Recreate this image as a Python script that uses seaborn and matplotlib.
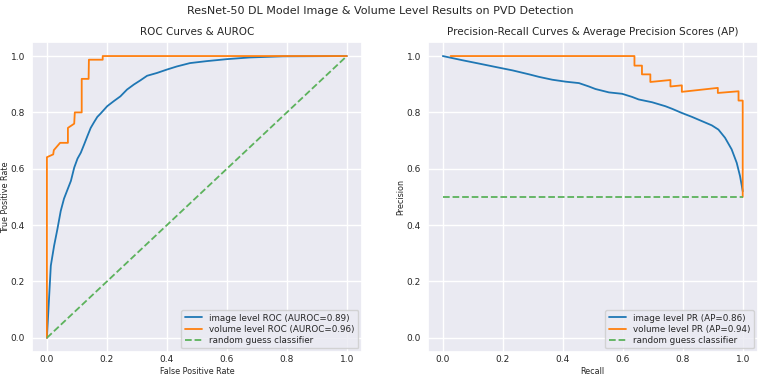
import numpy as np
import pandas as pd
import matplotlib
matplotlib.use("Agg")
import matplotlib.pyplot as plt
import seaborn as sns

# ROC data
img_fpr = [0.0, 0.013, 0.024, 0.035, 0.046, 0.057, 0.069, 0.080, 0.091, 0.102, 0.113, 0.124,
           0.135, 0.146, 0.157, 0.168, 0.179, 0.201, 0.223, 0.245, 0.267, 0.290, 0.312, 0.334,
           0.367, 0.400, 0.433, 0.477, 0.533, 0.600, 0.676, 0.787, 1.0]
img_tpr = [0.0, 0.256, 0.327, 0.386, 0.450, 0.494, 0.527, 0.557, 0.604, 0.636, 0.657, 0.686,
           0.716, 0.745, 0.765, 0.784, 0.796, 0.822, 0.840, 0.857, 0.881, 0.899, 0.914, 0.930,
           0.940, 0.952, 0.963, 0.975, 0.982, 0.989, 0.995, 0.999, 1.0]
vol_fpr = [0.0, 0.0, 0.021, 0.023, 0.044, 0.070, 0.070, 0.091, 0.093, 0.116, 0.116, 0.139,
           0.140, 0.186, 0.186, 1.0]
vol_tpr = [0.0, 0.641, 0.651, 0.666, 0.692, 0.692, 0.745, 0.760, 0.800, 0.800, 0.919, 0.919,
           0.987, 0.987, 1.0, 1.0]
rand_roc_x = [0.0, 1.0]
rand_roc_y = [0.0, 1.0]

# PR data
img_rec = [0.0, 0.066, 0.122, 0.177, 0.233, 0.288, 0.321, 0.365, 0.410, 0.454, 0.487, 0.509,
           0.554, 0.598, 0.631, 0.653, 0.698, 0.742, 0.764, 0.797, 0.831, 0.864, 0.897, 0.919,
           0.941, 0.963, 0.980, 0.991, 0.997, 1.0]
img_prec = [1.0, 0.985, 0.973, 0.961, 0.949, 0.935, 0.926, 0.916, 0.909, 0.904, 0.892, 0.883,
            0.871, 0.866, 0.855, 0.846, 0.836, 0.822, 0.813, 0.798, 0.784, 0.769, 0.754, 0.739,
            0.710, 0.669, 0.621, 0.574, 0.539, 0.52]
vol_rec = [0.026, 0.639, 0.639, 0.664, 0.664, 0.692, 0.692, 0.759, 0.759, 0.797, 0.797, 0.917,
           0.917, 0.986, 0.986, 1.0, 1.0]
vol_prec = [1.0, 1.0, 0.966, 0.966, 0.935, 0.935, 0.908, 0.915, 0.892, 0.896, 0.873, 0.887,
            0.869, 0.875, 0.842, 0.842, 0.5]
rand_pr_x = [0.0, 1.0]
rand_pr_y = [0.5, 0.5]

sns.set_theme(style="darkgrid")
plt.rcParams['font.family'] = ['DejaVu Sans']

fig, axes = plt.subplots(1, 2, figsize=(7.6, 3.78), dpi=100)
fig.subplots_adjust(left=0.042, right=0.997, top=0.889, bottom=0.069, wspace=0.2)

blue, orange, green = '#1f77b4', '#ff7f0e', '#5cb25c'
lw = 1.3

ax = axes[0]
sns.lineplot(x=img_fpr, y=img_tpr, ax=ax, sort=False, estimator=None, color=blue, lw=lw,
             label='image level ROC (AUROC=0.89)')
sns.lineplot(x=vol_fpr, y=vol_tpr, ax=ax, sort=False, estimator=None, color=orange, lw=lw,
             label='volume level ROC (AUROC=0.96)')
sns.lineplot(x=rand_roc_x, y=rand_roc_y, ax=ax, sort=False, estimator=None, color=green, lw=lw,
             linestyle='--', label='random guess classifier')
ax.set_title('ROC Curves & AUROC', fontsize=7.5, pad=5)
ax.set_xlabel('False Positive Rate', fontsize=5.8)
ax.set_ylabel('True Positive Rate', fontsize=5.8)

ax = axes[1]
sns.lineplot(x=img_rec, y=img_prec, ax=ax, sort=False, estimator=None, color=blue, lw=lw,
             label='image level PR (AP=0.86)')
sns.lineplot(x=vol_rec, y=vol_prec, ax=ax, sort=False, estimator=None, color=orange, lw=lw,
             label='volume level PR (AP=0.94)')
sns.lineplot(x=rand_pr_x, y=rand_pr_y, ax=ax, sort=False, estimator=None, color=green, lw=lw,
             linestyle='--', label='random guess classifier')
ax.set_title('Precision-Recall Curves & Average Precision Scores (AP)', fontsize=7.5, pad=5)
ax.set_xlabel('Recall', fontsize=5.8)
ax.set_ylabel('Precision', fontsize=5.8)

for ax in axes:
    ax.set_xlim(-0.05, 1.05)
    ax.set_ylim(-0.05, 1.05)
    ax.set_xticks([0, 0.2, 0.4, 0.6, 0.8, 1.0])
    ax.set_yticks([0, 0.2, 0.4, 0.6, 0.8, 1.0])
    ax.tick_params(axis='x', labelsize=6.5, length=0, pad=2.5)
    ax.tick_params(axis='y', labelsize=6.5, length=0, pad=5)
    ax.legend(loc='lower right', fontsize=6.3, handlelength=2, labelspacing=0.25,
              borderpad=0.4, borderaxespad=0.4)
    ax.xaxis.set_label_coords(0.5, -0.048)
    ax.yaxis.set_label_coords(-0.067, 0.5)

fig.suptitle('ResNet-50 DL Model Image & Volume Level Results on PVD Detection', fontsize=8, y=0.985)
fig.savefig('out.png', dpi=100)
